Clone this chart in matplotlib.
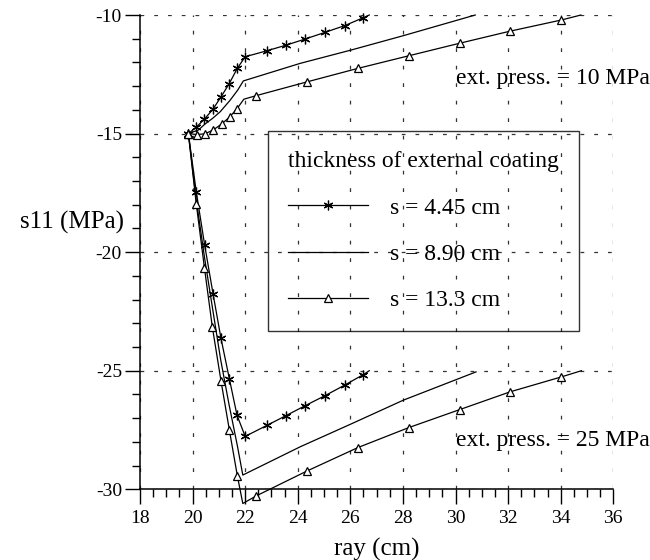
import matplotlib
matplotlib.use("Agg")
import matplotlib.pyplot as plt
from matplotlib.ticker import MultipleLocator

plt.rcParams['font.family'] = ['Liberation Serif', 'DejaVu Serif']
plt.rcParams['axes.unicode_minus'] = False

# ---- data: ext. press. = 10 MPa ----
x_s1_10 = [19.84, 20.13, 20.45, 20.77, 21.07, 21.39, 21.70, 22.00, 22.82, 23.56, 24.29, 25.04, 25.78, 26.50, 26.72]
y_s1_10 = [-15.0, -14.74, -14.39, -13.98, -13.47, -12.90, -12.25, -11.76, -11.51, -11.27, -11.01, -10.73, -10.45, -10.11, -10.0]

x_s2_10 = [19.84, 20.22, 20.47, 20.77, 21.05, 21.43, 21.72, 21.93, 24.09, 26.02, 28.02, 30.75]
y_s2_10 = [-15.0, -14.85, -14.60, -14.35, -14.08, -13.59, -13.16, -12.78, -12.04, -11.48, -10.87, -10.0]

x_s3_10 = [19.84, 20.16, 20.47, 20.78, 21.10, 21.41, 21.69, 21.95, 22.42, 24.35, 26.29, 28.22, 30.16, 32.08, 34.03, 34.77]
y_s3_10 = [-15.0, -15.04, -15.01, -14.85, -14.60, -14.30, -13.95, -13.55, -13.40, -12.82, -12.25, -11.72, -11.19, -10.68, -10.21, -10.0]

# ---- data: ext. press. = 25 MPa ----
x_s1_25 = [19.84, 20.14, 20.46, 20.78, 21.08, 21.40, 21.69, 22.00, 22.82, 23.56, 24.29, 25.04, 25.78, 26.50, 26.72]
y_s1_25 = [-15.0, -17.46, -19.71, -21.77, -23.64, -25.35, -26.88, -27.77, -27.31, -26.89, -26.47, -26.05, -25.61, -25.16, -25.0]

x_s2_25 = [19.84, 20.13, 20.45, 20.77, 21.07, 21.39, 21.70, 21.91, 24.09, 26.00, 28.02, 30.78]
y_s2_25 = [-15.0, -17.72, -20.20, -22.45, -24.55, -26.45, -28.15, -29.40, -28.21, -27.26, -26.24, -25.05]

x_s3_25 = [19.84, 20.14, 20.45, 20.75, 21.08, 21.40, 21.70, 21.91, 22.42, 24.35, 26.29, 28.22, 30.16, 32.08, 34.03, 34.79]
y_s3_25 = [-15.0, -17.97, -20.66, -23.15, -25.43, -27.51, -29.42, -30.60, -30.28, -29.23, -28.24, -27.40, -26.64, -25.89, -25.26, -25.0]

labels = ["s = 4.45 cm", "s = 8.90 cm", "s = 13.3 cm"]
legend_title = "thickness of external coating"
note_10 = "ext. press. = 10 MPa"
note_25 = "ext. press. = 25 MPa"

fig = plt.figure(figsize=(6.5, 5.6), dpi=100)
ax = fig.add_axes([0.2154, 0.1263, 0.7281, 0.8469])

star = (6, 2, 0)
lw = 0.9
star_idx = list(range(len(x_s1_10) - 1))
tri_idx = [i for i in range(len(x_s3_10) - 1) if i != 7]

ax.plot(x_s1_10, y_s1_10, color='black', lw=lw, marker=star, ms=7, mew=0.9,
        markevery=star_idx, clip_on=False, label=labels[0])
ax.plot(x_s2_10, y_s2_10, color='black', lw=lw, clip_on=False, label=labels[1])
ax.plot(x_s3_10, y_s3_10, color='black', lw=lw, marker='^', ms=6, mfc='white', mew=0.9,
        markevery=tri_idx, clip_on=False, label=labels[2])

ax.plot(x_s1_25, y_s1_25, color='black', lw=lw, marker=star, ms=7, mew=0.9,
        markevery=star_idx, clip_on=False)
ax.plot(x_s2_25, y_s2_25, color='black', lw=lw, clip_on=False)
ax.plot(x_s3_25, y_s3_25, color='black', lw=lw, marker='^', ms=6, mfc='white', mew=0.9,
        markevery=tri_idx, clip_on=False)

ax.set_xlim(18, 36)
ax.set_ylim(-30, -10)
ax.xaxis.set_major_locator(MultipleLocator(2))
ax.xaxis.set_minor_locator(MultipleLocator(0.5))
ax.yaxis.set_major_locator(MultipleLocator(5))
ax.yaxis.set_minor_locator(MultipleLocator(1))

for s in ['top', 'right']:
    ax.spines[s].set_visible(False)
for s in ['left', 'bottom']:
    ax.spines[s].set_linewidth(1.1)

ax.tick_params(which='major', direction='out', length=11, width=1.0, labelsize=14, pad=2)
ax.tick_params(which='minor', direction='out', length=5.8, width=1.0)
ax.tick_params(axis='x', which='major', pad=4)

ax.grid(axis='x', which='major', color='#333333', lw=0.9, linestyle=(0, (3, 11)))
ax.grid(axis='y', which='major', color='#333333', lw=0.9, linestyle=(0, (3, 8)))
ax.set_axisbelow(True)

ax.set_xlabel("ray (cm)", fontsize=18, labelpad=8)
ax.set_ylabel("s11 (MPa)", fontsize=18, rotation=0, ha='right', va='center')
ax.yaxis.set_label_coords(-0.034, 0.562)

ax.text(30.0, -12.66, note_10, fontsize=17, ha='left', va='center')
ax.text(30.0, -27.93, note_25, fontsize=17, ha='left', va='center')

leg = ax.legend(title=legend_title, loc='upper left', bbox_to_anchor=(0.270, 0.755),
                borderaxespad=0, fontsize=17, title_fontsize=17, numpoints=1,
                handlelength=3.4, handletextpad=0.93, labelspacing=1.05,
                fancybox=False, frameon=True, borderpad=0.85, alignment='left')
frame = leg.get_frame()
frame.set_facecolor('none')
frame.set_edgecolor('black')
frame.set_linewidth(1.0)

fig.savefig("out.png", dpi=100)
